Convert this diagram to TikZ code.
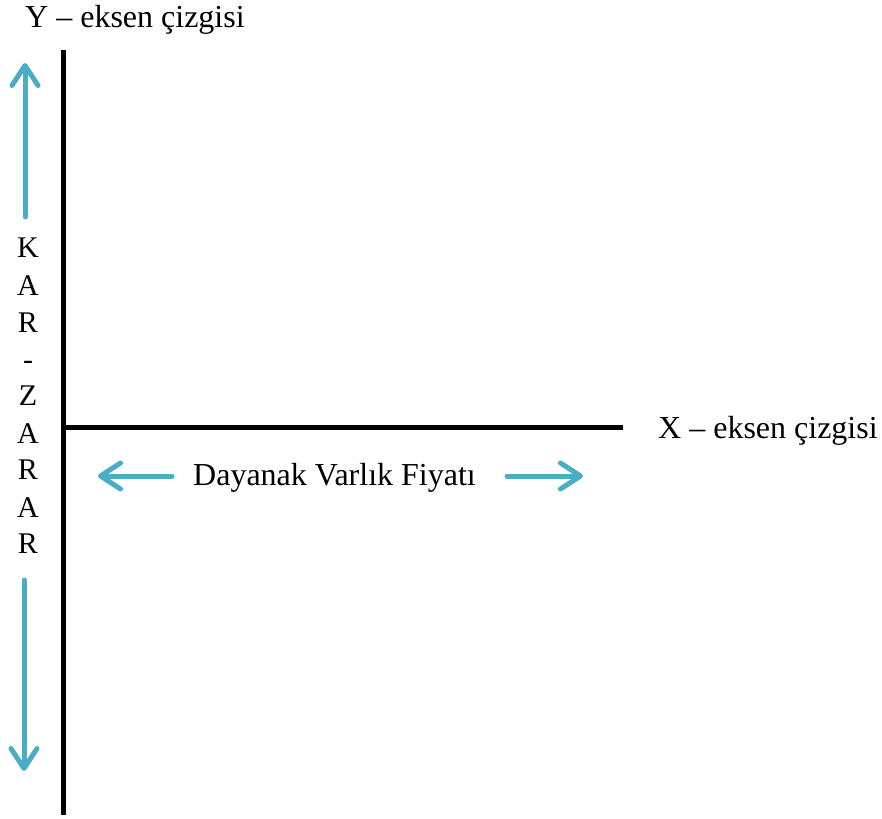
\documentclass[tikz,border=0pt]{standalone}
\usepackage{fontspec}
\setmainfont{Liberation Serif}
\usetikzlibrary{arrows.meta}
\definecolor{arrowblue}{HTML}{4BACC6}
\begin{document}
\begin{tikzpicture}[x=1pt,y=-1pt,
  axisline/.style={line width=5pt,black},
  bluearrow/.style={line width=5pt,arrowblue,line cap=round,-{Straight Barb[length=20pt,width=26pt,round]}},
  lbl/.style={inner sep=0pt,anchor=base west,font=\fontsize{32}{38}\selectfont},
  vlet/.style={inner sep=0pt,anchor=base,font=\fontsize{30}{36}\selectfont}]
\useasboundingbox (0,0) rectangle (882,818);
\coordinate (o) at (63.5,427);
\coordinate (ytop) at (63.5,50);
\coordinate (ybot) at (63.5,815);
\coordinate (xend) at (623,427);
\draw[axisline] (ytop) -- (ybot);
\draw[axisline] (o) -- (xend);
\node[lbl] (ylab) at (25,28) {Y – eksen çizgisi};
\node[lbl] (xlab) at (658,438) {X – eksen çizgisi};
\node[lbl] (dv) at (193,485) {Dayanak Varlık Fiyatı};
\coordinate (ua) at (25,217);
\coordinate (ub) at (25,63);
\coordinate (da) at (24,580);
\coordinate (db) at (24,771);
\coordinate (la) at (172,476);
\coordinate (lb) at (98,476);
\coordinate (ra) at (507,476);
\coordinate (rb) at (583,476);
\draw[bluearrow] (ua) -- (ub);
\draw[bluearrow] (da) -- (db);
\draw[bluearrow] (la) -- (lb);
\draw[bluearrow] (ra) -- (rb);
\node[vlet] (l1) at (28,257) {K};
\node[vlet] (l2) at (28,295) {A};
\node[vlet] (l3) at (28,332) {R};
\node[vlet] (l4) at (28,369) {-};
\node[vlet] (l5) at (28,405) {Z};
\node[vlet] (l6) at (28,443) {A};
\node[vlet] (l7) at (28,479) {R};
\node[vlet] (l8) at (28,517) {A};
\node[vlet] (l9) at (28,553) {R};
\end{tikzpicture}
\end{document}
